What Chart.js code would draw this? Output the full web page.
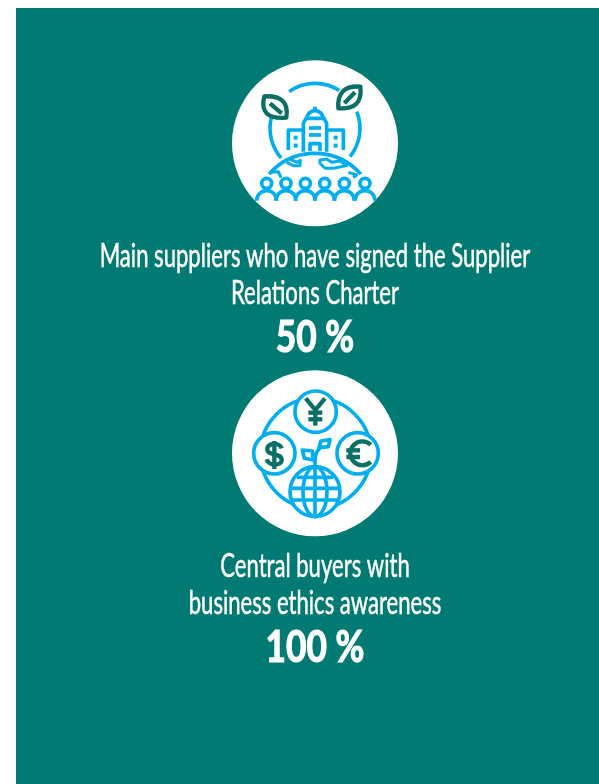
<!DOCTYPE html>
<html>
<head>
<meta charset="utf-8">
<title>Supplier ethics indicators</title>
<script src="https://cdn.jsdelivr.net/npm/chart.js@4"></script>
<style>
  html, body { margin: 0; padding: 0; background: #ffffff; overflow: hidden; }
  canvas { display: block; }
</style>
</head>
<body>
<canvas id="kpi" width="599" height="784"></canvas>
<script>
var indicator_labels = [
  ['Main suppliers who have signed the Supplier', 'Relations Charter'],
  ['Central buyers with', 'business ethics awareness']
];
var indicator_values = [50, 100];
var value_suffix = ' %';

var TEAL = '#007a73';
var BLUE = '#00aeef';
var GREEN = '#0b6f66';
var FONT = 'Lato';
var LABEL_STRETCH = 0.69;
var VALUE_STRETCH = 0.82;

function ring(ctx, x, y, r, from, to) {
  ctx.beginPath();
  ctx.arc(x, y, r, from === undefined ? 0 : from, to === undefined ? Math.PI * 2 : to);
  ctx.stroke();
}

function poly(ctx, pts, closed) {
  ctx.beginPath();
  ctx.moveTo(pts[0], pts[1]);
  for (var i = 2; i < pts.length; i += 2) ctx.lineTo(pts[i], pts[i + 1]);
  if (closed) ctx.closePath();
  ctx.stroke();
}

function leaf(ctx, x1, y1, x2, y2, c1x, c1y, c2x, c2y) {
  ctx.beginPath();
  ctx.moveTo(x1, y1);
  ctx.quadraticCurveTo(c1x, c1y, x2, y2);
  ctx.quadraticCurveTo(c2x, c2y, x1, y1);
  ctx.closePath();
  ctx.stroke();
}

// icons are drawn in a 3x space, the centre of the white disc is 270,265
function drawCityIcon(ctx) {
  ctx.strokeStyle = BLUE;
  ctx.lineWidth = 11;
  ring(ctx, 270, 220, 135, -2.18, -1.0);
  ring(ctx, 270, 220, 135, 2.42, 3.38);
  ring(ctx, 270, 220, 135, -0.38, 0.68);

  ctx.strokeStyle = GREEN;
  ctx.lineWidth = 13;
  leaf(ctx, 118, 124, 184, 188, 100, 195, 195, 120);
  poly(ctx, [135, 145, 170, 175]);
  leaf(ctx, 406, 95, 340, 160, 335, 90, 415, 165);
  poly(ctx, [390, 112, 358, 145]);

  ctx.strokeStyle = BLUE;
  ctx.fillStyle = BLUE;
  ctx.lineWidth = 11;
  // building
  poly(ctx, [190, 285, 190, 225, 235, 225]);
  poly(ctx, [355, 285, 355, 225, 305, 225]);
  poly(ctx, [235, 290, 235, 205, 243, 190, 297, 190, 305, 205, 305, 290]);
  ring(ctx, 270, 192, 25, Math.PI, 0);
  poly(ctx, [270, 155, 270, 168]);
  poly(ctx, [252, 219, 288, 219]);
  poly(ctx, [252, 240, 288, 240]);
  poly(ctx, [255, 288, 255, 266, 285, 266, 285, 288]);
  [[212, 248], [212, 272], [332, 248], [332, 272]].forEach(function (w) {
    ctx.fillRect(w[0] - 6, w[1] - 6, 12, 12);
  });

  // globe and land
  ring(ctx, 270, 478, 183, -2.42, -0.72);
  ctx.lineWidth = 9;
  poly(ctx, [195, 312, 215, 322, 226, 316, 225, 332, 205, 332, 185, 322]);
  poly(ctx, [285, 315, 305, 312, 320, 322, 345, 318, 365, 332, 325, 340, 300, 340, 285, 325], true);
  poly(ctx, [135, 352, 160, 350, 168, 368]);
  poly(ctx, [370, 352, 395, 360, 385, 368]);

  // people
  ctx.lineWidth = 11;
  [125, 183, 241, 299, 358, 420].forEach(function (x) {
    ctx.fillStyle = '#ffffff';
    ctx.beginPath();
    ctx.arc(x, 435, 31, Math.PI, 0);
    ctx.fill();
    ctx.beginPath();
    ctx.arc(x, 385, 15, 0, Math.PI * 2);
    ctx.fill();
    ring(ctx, x, 385, 15);
    ring(ctx, x, 437, 30, Math.PI, 0);
  });
}

function drawFinanceIcon(ctx) {
  ctx.strokeStyle = BLUE;
  ctx.lineWidth = 11;
  ring(ctx, 272, 265, 166);

  ctx.fillStyle = '#ffffff';
  [[272, 140], [148, 265], [398, 265]].forEach(function (c) {
    ctx.beginPath();
    ctx.arc(c[0], c[1], 62, 0, Math.PI * 2);
    ctx.fill();
    ring(ctx, c[0], c[1], 62);
  });
  ctx.beginPath();
  ctx.arc(270, 380, 75, 0, Math.PI * 2);
  ctx.fill();

  // yen
  ctx.strokeStyle = GREEN;
  ctx.lineWidth = 13;
  poly(ctx, [242, 100, 271, 135, 300, 100]);
  poly(ctx, [271, 135, 271, 182]);
  poly(ctx, [250, 143, 292, 143]);
  poly(ctx, [250, 163, 292, 163]);

  // dollar
  ctx.beginPath();
  ctx.moveTo(170, 250);
  ctx.bezierCurveTo(165, 232, 125, 232, 127, 254);
  ctx.bezierCurveTo(128, 274, 170, 262, 170, 285);
  ctx.bezierCurveTo(170, 304, 130, 304, 125, 283);
  ctx.stroke();
  poly(ctx, [148, 228, 148, 312]);

  // euro
  ctx.beginPath();
  ctx.arc(412, 265, 36, -0.8, 0.8, true);
  ctx.stroke();
  poly(ctx, [364, 256, 405, 256]);
  poly(ctx, [364, 276, 405, 276]);

  // sprout
  ctx.strokeStyle = BLUE;
  ctx.lineWidth = 11;
  ctx.beginPath();
  ctx.moveTo(270, 305);
  ctx.bezierCurveTo(270, 285, 268, 262, 285, 250);
  ctx.stroke();
  poly(ctx, [232, 255, 262, 258, 264, 285, 238, 280], true);
  poly(ctx, [282, 248, 288, 228, 315, 224, 310, 245], true);

  // globe
  ring(ctx, 270, 380, 75);
  ctx.beginPath();
  ctx.ellipse(270, 380, 36, 75, 0, 0, Math.PI * 2);
  ctx.stroke();
  poly(ctx, [270, 305, 270, 455]);
  poly(ctx, [215, 337, 325, 337]);
  poly(ctx, [197, 370, 343, 370]);
  poly(ctx, [200, 405, 340, 405]);
}

var icon_painters = [drawCityIcon, drawFinanceIcon];

var panelPlugin = {
  id: 'panel',
  beforeDraw: function (chart) {
    var a = chart.chartArea;
    chart.ctx.save();
    chart.ctx.fillStyle = TEAL;
    chart.ctx.fillRect(a.left, a.top, a.right - a.left, a.bottom - a.top);
    chart.ctx.restore();
  }
};

function stretchedText(ctx, text, x, y, stretch, weight) {
  ctx.save();
  ctx.translate(x, y);
  ctx.scale(stretch, 1);
  ctx.fillText(text, 0, 0);
  // the reference type is a bit heavier than Lato regular
  if (weight) {
    ctx.lineWidth = weight;
    ctx.strokeStyle = ctx.fillStyle;
    ctx.strokeText(text, 0, 0);
  }
  ctx.restore();
}

var contentPlugin = {
  id: 'content',
  afterDatasetsDraw: function (chart) {
    var ctx = chart.ctx;
    chart.getDatasetMeta(0).data.forEach(function (pt, i) {
      ctx.save();
      ctx.translate(pt.x, pt.y);
      ctx.scale(1 / 3, 1 / 3);
      ctx.translate(-270, -265);
      ctx.lineCap = 'butt';
      ctx.lineJoin = 'round';
      icon_painters[i](ctx);
      ctx.restore();

      ctx.save();
      ctx.fillStyle = '#ffffff';
      ctx.textAlign = 'center';
      ctx.textBaseline = 'alphabetic';
      ctx.font = '32px ' + FONT;
      indicator_labels[i].forEach(function (line, n) {
        stretchedText(ctx, line, pt.x, pt.y + 124 + n * 37, LABEL_STRETCH, 0.5);
      });
      ctx.font = 'bold 43px ' + FONT;
      stretchedText(ctx, indicator_values[i] + value_suffix, pt.x, pt.y + 209, VALUE_STRETCH, 1.2);
      ctx.restore();
    });
  }
};

var kpiChart = new Chart(document.getElementById('kpi'), {
  type: 'scatter',
  data: {
    datasets: [{
      label: 'Indicators',
      data: indicator_values.map(function (v, i) { return { x: 0, y: i }; }),
      pointRadius: 83,
      pointHoverRadius: 83,
      pointBackgroundColor: '#ffffff',
      pointBorderWidth: 0
    }]
  },
  options: {
    responsive: false,
    animation: false,
    layout: { autoPadding: false, padding: { left: 16, top: 8, right: 0, bottom: 0 } },
    events: [],
    scales: {
      x: { display: false, min: -299, max: 284 },
      y: { display: false, reverse: true, min: -0.4365, max: 2.0668 }
    },
    plugins: {
      legend: { display: false },
      tooltip: { enabled: false }
    }
  },
  plugins: [panelPlugin, contentPlugin]
});
</script>
</body>
</html>
